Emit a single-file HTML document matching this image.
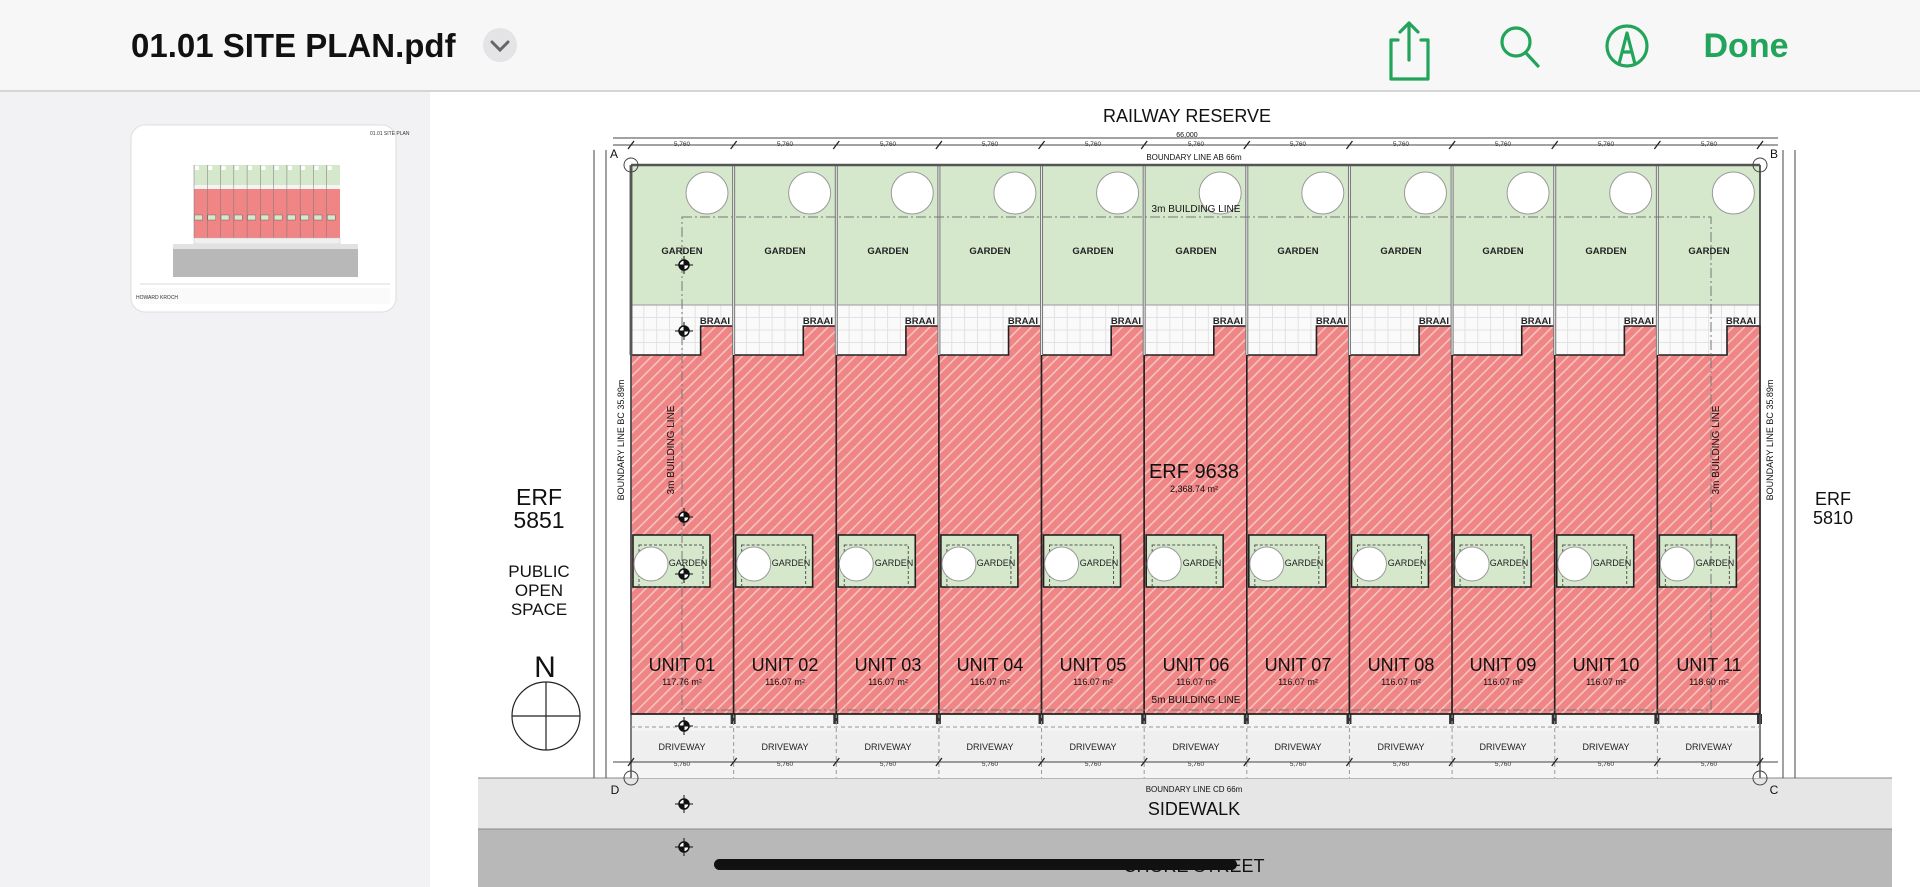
<!DOCTYPE html>
<html><head><meta charset="utf-8"><style>
html,body{margin:0;padding:0;width:1920px;height:887px;overflow:hidden;background:#fff;font-family:"Liberation Sans",sans-serif}
svg{position:absolute;left:0;top:0}
text{font-family:"Liberation Sans",sans-serif}
</style></head><body>
<svg id="s" width="1920" height="887" viewBox="0 0 1920 887" xmlns="http://www.w3.org/2000/svg">
<defs>
<pattern id="h" width="8" height="8" patternUnits="userSpaceOnUse" patternTransform="rotate(45)">
<rect width="8" height="8" fill="#ef8585"/><rect width="1.6" height="8" fill="#f7c2c2"/>
</pattern>
</defs>
<rect x="0" y="0" width="1920" height="91" fill="#f7f7f7"/>
<line x1="0" y1="91" x2="1920" y2="91" stroke="#c8c8c8" stroke-width="1.5"/>
<text x="131" y="57" font-size="33" font-weight="bold" fill="#111">01.01 SITE PLAN.pdf</text>
<circle cx="500" cy="45" r="17" fill="#e4e4e6"/>
<path d="M492 42 L500 50 L508 42" fill="none" stroke="#666" stroke-width="3" stroke-linecap="round"/>
<g fill="none" stroke="#22a45a" stroke-width="3.2" stroke-linecap="round" stroke-linejoin="round">
<path d="M1398 40 h-7 v39 h37 v-39 h-7"/><path d="M1409 60 V23 M1400 32 L1409 23 L1418 32"/>
<circle cx="1516" cy="42" r="14"/><path d="M1526 53 L1538 66"/>
<circle cx="1627" cy="46" r="20"/><path d="M1619 64 L1627 33 L1635 64 M1622 52 h10"/>
</g>
<text x="1746" y="57" font-size="34" font-weight="bold" fill="#22a45a" text-anchor="middle">Done</text>
<rect x="0" y="92" width="430" height="795" fill="#f2f2f4"/>
<rect x="131" y="125" width="265" height="187" rx="14" fill="#fff" stroke="#dedede"/>
<g id="th"></g>
<text x="136" y="299" font-size="5" fill="#333">HOWARD KROCH</text>
<text x="370" y="135" font-size="5" fill="#333">01.01 SITE PLAN</text>
<rect x="478" y="778" width="1414" height="51" fill="#e6e6e6"/>
<rect x="478" y="829" width="1414" height="58" fill="#b8b8b8"/>
<line x1="478" y1="778" x2="1892" y2="778" stroke="#888" stroke-width="1"/>
<line x1="478" y1="829" x2="1892" y2="829" stroke="#888" stroke-width="1"/>
<g id="g"></g>
<g font-size="18" fill="#111" text-anchor="middle">
<text x="1187" y="122">RAILWAY RESERVE</text>
<text x="1194" y="815">SIDEWALK</text>
<text x="1194" y="872">CHORE STREET</text>
<text x="1194" y="478" font-size="20">ERF 9638</text>
<text x="1194" y="492" font-size="9">2,368.74 m²</text>
<text x="539" y="505" font-size="23">ERF</text>
<text x="539" y="528" font-size="23">5851</text>
<text x="539" y="577" font-size="17">PUBLIC</text>
<text x="539" y="596" font-size="17">OPEN</text>
<text x="539" y="615" font-size="17">SPACE</text>
<text x="545" y="677" font-size="30">N</text>
<text x="1833" y="505" font-size="18">ERF</text>
<text x="1833" y="524" font-size="18">5810</text>
<text x="1194" y="160" font-size="8">BOUNDARY LINE AB 66m</text>
<text x="1194" y="792" font-size="8">BOUNDARY LINE CD 66m</text>
<text x="1196" y="212" font-size="10">3m BUILDING LINE</text>
<text x="1196" y="703" font-size="10">5m BUILDING LINE</text>
<text x="1187" y="137" font-size="7">66,000</text>
<text x="614" y="158" font-size="12">A</text><text x="1774" y="158" font-size="12">B</text>
<text x="615" y="794" font-size="12">D</text><text x="1774" y="794" font-size="12">C</text>
<text transform="translate(674,450) rotate(-90)" font-size="10">3m BUILDING LINE</text>
<text transform="translate(1719,450) rotate(-90)" font-size="10">3m BUILDING LINE</text>
<text transform="translate(624,440) rotate(-90)" font-size="9">BOUNDARY LINE BC 35.89m</text>
<text transform="translate(1773,440) rotate(-90)" font-size="9">BOUNDARY LINE BC 35.89m</text>
</g>
<g font-size="18" fill="#111" text-anchor="middle">
<text x="682" y="671">UNIT 01</text><text x="785" y="671">UNIT 02</text><text x="888" y="671">UNIT 03</text><text x="990" y="671">UNIT 04</text><text x="1093" y="671">UNIT 05</text><text x="1196" y="671">UNIT 06</text><text x="1298" y="671">UNIT 07</text><text x="1401" y="671">UNIT 08</text><text x="1503" y="671">UNIT 09</text><text x="1606" y="671">UNIT 10</text><text x="1709" y="671">UNIT 11</text>
</g>
<g font-size="9" fill="#111" text-anchor="middle">
<text x="682" y="685">117.76 m²</text><text x="785" y="685">116.07 m²</text><text x="888" y="685">116.07 m²</text><text x="990" y="685">116.07 m²</text><text x="1093" y="685">116.07 m²</text><text x="1196" y="685">116.07 m²</text><text x="1298" y="685">116.07 m²</text><text x="1401" y="685">116.07 m²</text><text x="1503" y="685">116.07 m²</text><text x="1606" y="685">116.07 m²</text><text x="1709" y="685">118.60 m²</text>
</g>
<g font-size="9.5" font-weight="bold" fill="#222" text-anchor="middle">
<text x="682" y="254">GARDEN</text><text x="785" y="254">GARDEN</text><text x="888" y="254">GARDEN</text><text x="990" y="254">GARDEN</text><text x="1093" y="254">GARDEN</text><text x="1196" y="254">GARDEN</text><text x="1298" y="254">GARDEN</text><text x="1401" y="254">GARDEN</text><text x="1503" y="254">GARDEN</text><text x="1606" y="254">GARDEN</text><text x="1709" y="254">GARDEN</text>
</g>
<g font-size="9.5" font-weight="bold" fill="#222" text-anchor="end">
<text x="730" y="324">BRAAI</text><text x="833" y="324">BRAAI</text><text x="935" y="324">BRAAI</text><text x="1038" y="324">BRAAI</text><text x="1141" y="324">BRAAI</text><text x="1243" y="324">BRAAI</text><text x="1346" y="324">BRAAI</text><text x="1449" y="324">BRAAI</text><text x="1551" y="324">BRAAI</text><text x="1654" y="324">BRAAI</text><text x="1756" y="324">BRAAI</text>
</g>
<g font-size="9" fill="#222" text-anchor="middle">
<text x="688" y="566">GARDEN</text><text x="791" y="566">GARDEN</text><text x="894" y="566">GARDEN</text><text x="996" y="566">GARDEN</text><text x="1099" y="566">GARDEN</text><text x="1202" y="566">GARDEN</text><text x="1304" y="566">GARDEN</text><text x="1407" y="566">GARDEN</text><text x="1509" y="566">GARDEN</text><text x="1612" y="566">GARDEN</text><text x="1715" y="566">GARDEN</text>
</g>
<g font-size="9" fill="#222" text-anchor="middle">
<text x="682" y="750">DRIVEWAY</text><text x="785" y="750">DRIVEWAY</text><text x="888" y="750">DRIVEWAY</text><text x="990" y="750">DRIVEWAY</text><text x="1093" y="750">DRIVEWAY</text><text x="1196" y="750">DRIVEWAY</text><text x="1298" y="750">DRIVEWAY</text><text x="1401" y="750">DRIVEWAY</text><text x="1503" y="750">DRIVEWAY</text><text x="1606" y="750">DRIVEWAY</text><text x="1709" y="750">DRIVEWAY</text>
</g>
<g font-size="6.5" fill="#333" text-anchor="middle">
<text x="682" y="146">5,760</text><text x="785" y="146">5,760</text><text x="888" y="146">5,760</text><text x="990" y="146">5,760</text><text x="1093" y="146">5,760</text><text x="1196" y="146">5,760</text><text x="1298" y="146">5,760</text><text x="1401" y="146">5,760</text><text x="1503" y="146">5,760</text><text x="1606" y="146">5,760</text><text x="1709" y="146">5,760</text>
<text x="682" y="766">5,760</text><text x="785" y="766">5,760</text><text x="888" y="766">5,760</text><text x="990" y="766">5,760</text><text x="1093" y="766">5,760</text><text x="1196" y="766">5,760</text><text x="1298" y="766">5,760</text><text x="1401" y="766">5,760</text><text x="1503" y="766">5,760</text><text x="1606" y="766">5,760</text><text x="1709" y="766">5,760</text>
</g>
<rect x="714" y="859" width="523" height="11" rx="5.5" fill="#111"/>
</svg>
<script>
const N='http://www.w3.org/2000/svg';
let g=document.getElementById('g');
function el(t,a,p){const e=document.createElementNS(N,t);for(const k in a)e.setAttribute(k,a[k]);(p||g).appendChild(e);return e;}
// thumbnail
const th=document.getElementById('th');
el('rect',{x:194,y:165,width:146,height:20,fill:'#d5e8cc'},th);
el('rect',{x:194,y:185,width:146,height:6,fill:'#f4f4f4'},th);
el('rect',{x:194,y:189,width:146,height:49,fill:'#ef8585'},th);
for(let i=0;i<11;i++){const x=194+i*146/11;el('rect',{x:x+1,y:166,width:4,height:4,fill:'#fff'},th);el('rect',{x:x+0.5,y:215,width:8,height:5,fill:'#d5e8cc',stroke:'#555','stroke-width':0.4},th);el('line',{x1:x,y1:165,x2:x,y2:238,stroke:'#777','stroke-width':0.5},th);el('rect',{x:x+0.5,y:185,width:9,height:4,fill:'#f4f4f4'},th);}
el('rect',{x:194,y:238,width:146,height:6,fill:'#f0f0f0',stroke:'#bbb','stroke-width':0.4},th);
el('rect',{x:173,y:244,width:185,height:5,fill:'#e2e2e2'},th);
el('rect',{x:173,y:249,width:185,height:28,fill:'#b8b8b8'},th);
el('line',{x1:140,y1:284,x2:390,y2:284,stroke:'#ccc','stroke-width':0.8},th);
el('rect',{x:140,y:288,width:250,height:16,fill:'#fafafa'},th);
const L=631,R=1760,W=(R-L)/11;
el('rect',{x:L,y:714,width:R-L,height:64,fill:'#f4f4f4'});
el('rect',{x:L,y:731,width:R-L,height:31,fill:'#efefef'});
for(let i=0;i<11;i++){
 const x=L+i*W,r=x+W;
 el('rect',{x:x,y:165,width:W,height:140,fill:'#d5e8cc'});
 el('rect',{x:x,y:305,width:W,height:50,fill:'#fafafa'});
 for(let k=1;k<8;k++)el('line',{x1:x+k*W/8,y1:305,x2:x+k*W/8,y2:355,stroke:'#e2e2e2','stroke-width':1});
 for(let k=1;k<4;k++)el('line',{x1:x,y1:305+k*12.5,x2:r,y2:305+k*12.5,stroke:'#e2e2e2','stroke-width':1});
 el('polygon',{points:`${x},355 ${r-33},355 ${r-33},326 ${r},326 ${r},714 ${x},714`,fill:'url(#h)',stroke:'#222','stroke-width':1.6});
 el('line',{x1:x,y1:305,x2:r,y2:305,stroke:'#999','stroke-width':1});
 el('circle',{cx:x+76,cy:193,r:21,fill:'#fff',stroke:'#999','stroke-width':1});
 el('rect',{x:x+2,y:535,width:77,height:52,fill:'#d5e8cc',stroke:'#222','stroke-width':1.6});
 el('rect',{x:x+8,y:545,width:64,height:42,fill:'none',stroke:'#555','stroke-width':1,'stroke-dasharray':'3 2'});
 el('circle',{cx:x+20,cy:564,r:17,fill:'#fff',stroke:'#999','stroke-width':1});
 el('rect',{x:r-3,y:714,width:5,height:10,fill:'#333'});
 if(i>0)el('line',{x1:x,y1:714,x2:x,y2:778,stroke:'#999','stroke-width':1,'stroke-dasharray':'4 3'});
 el('line',{x1:x,y1:165,x2:x,y2:355,stroke:'#777','stroke-width':3});
 el('line',{x1:x,y1:165,x2:x,y2:355,stroke:'#eee','stroke-width':1});
}
el('line',{x1:R,y1:165,x2:R,y2:714,stroke:'#333','stroke-width':1.6});
el('line',{x1:L,y1:165,x2:R,y2:165,stroke:'#555','stroke-width':2.5});
el('line',{x1:L,y1:165,x2:L,y2:355,stroke:'#555','stroke-width':2.5});
el('line',{x1:L,y1:355,x2:L,y2:778,stroke:'#555','stroke-width':1.5});
el('line',{x1:R,y1:714,x2:R,y2:778,stroke:'#555','stroke-width':1.5});
el('line',{x1:L,y1:714,x2:R,y2:714,stroke:'#222','stroke-width':1.6});
el('line',{x1:L,y1:727,x2:R,y2:727,stroke:'#999','stroke-width':1,'stroke-dasharray':'4 3'});
el('path',{d:'M682 217 H1711 V710 H682 Z',fill:'none',stroke:'#777','stroke-width':1,'stroke-dasharray':'10 3 2 3'});
[138,145].forEach(y=>el('line',{x1:L-18,y1:y,x2:R+18,y2:y,stroke:'#444','stroke-width':1}));
el('line',{x1:L-18,y1:762,x2:R+18,y2:762,stroke:'#444','stroke-width':1});
[594,606,1783,1795].forEach(x=>el('line',{x1:x,y1:150,x2:x,y2:778,stroke:'#444','stroke-width':1}));
for(let i=0;i<=11;i++){const x=L+i*W;[145,762].forEach(y=>el('line',{x1:x-3,y1:y+4,x2:x+3,y2:y-4,stroke:'#222','stroke-width':1.3}));}
[[L,165],[R,165],[L,778],[R,778]].forEach(p=>el('circle',{cx:p[0],cy:p[1],r:7,fill:'none',stroke:'#444','stroke-width':1}));
[[684,265],[684,331],[684,517],[684,574],[684,726],[684,804],[684,847]].forEach(p=>{el('circle',{cx:p[0],cy:p[1],r:5,fill:'#fff',stroke:'#111','stroke-width':1.5});el('path',{d:`M${p[0]} ${p[1]-5} A5 5 0 0 1 ${p[0]+5} ${p[1]} L${p[0]} ${p[1]} Z M${p[0]} ${p[1]+5} A5 5 0 0 1 ${p[0]-5} ${p[1]} L${p[0]} ${p[1]} Z`,fill:'#111'});el('line',{x1:p[0]-9,y1:p[1],x2:p[0]+9,y2:p[1],stroke:'#111','stroke-width':1});el('line',{x1:p[0],y1:p[1]-9,x2:p[0],y2:p[1]+9,stroke:'#111','stroke-width':1});});
el('circle',{cx:546,cy:716,r:34,fill:'none',stroke:'#222','stroke-width':1.2});
el('line',{x1:546,y1:682,x2:546,y2:750,stroke:'#222','stroke-width':1.2});
el('line',{x1:512,y1:716,x2:580,y2:716,stroke:'#222','stroke-width':1.2});
</script>
</body></html>
